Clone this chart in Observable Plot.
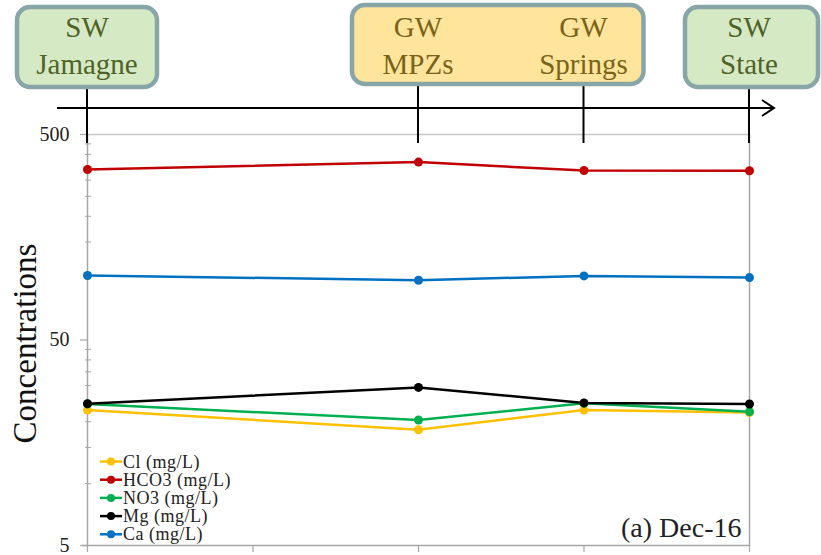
<!DOCTYPE html>
<html>
<head>
<meta charset="utf-8">
<script src="https://cdn.jsdelivr.net/npm/d3@7"></script>
<script src="https://cdn.jsdelivr.net/npm/@observablehq/plot@0.6"></script>
<style>
  html, body { margin: 0; padding: 0; background: #fff; }
  #chart { width: 821px; height: 555px; }
  #chart svg, #chart svg text { font-family: "Liberation Serif", "DejaVu Serif", serif; }
</style>
</head>
<body>
<div id="chart"></div>
<script>
// Sampling sites along the flow path (SW = surface water, GW = groundwater)
const siteNames = ["Jamagne", "MPZs", "Springs", "State"];
const siteTypes = ["SW", "GW", "GW", "SW"];
const sitePositions = [0, 2, 3, 4];
const xTickValues = [0, 1, 2, 3, 4];

// Ion concentrations, December 2016 (mg/L)
const seriesNames = ["Cl (mg/L)", "HCO3 (mg/L)", "NO3 (mg/L)", "Mg (mg/L)", "Ca (mg/L)"];
const seriesColors = ["#ffc000", "#c00000", "#00b050", "#000000", "#0070c0"];
const cl = [22.8, 18.3, 22.8, 22.2];
const hco3 = [338, 367, 334, 333];
const no3 = [24.4, 20.4, 24.6, 22.4];
const mg = [24.5, 29.4, 24.7, 24.4];
const ca = [103, 97.7, 102.5, 100.6];
const seriesValues = [cl, hco3, no3, mg, ca];

// Log axis ticks
const majorTicks = [5, 50, 500];
const minorTicks = [10, 15, 20, 25, 30, 35, 40, 45, 100, 150, 200, 250, 300, 350, 400, 450];

const yLabel = "Concentrations";
const panelLabel = "(a) Dec-16";

const serif = "Liberation Serif, DejaVu Serif, serif";
const grey = "#a6a6a6";

// Long table for the line and dot marks
const rows = seriesNames.flatMap((name, s) =>
  sitePositions.map((pos, i) => ({series: name, pos, value: seriesValues[s][i]}))
);

// Site boxes along the timeline arrow above the plot
const boxes = [
  {sites: [0], fill: "#d6e9c5", text: "#4f6228", padL: 70, padR: 70},
  {sites: [1, 2], fill: "#fee59b", text: "#7a6318", padL: 66, padR: 60},
  {sites: [3], fill: "#d6e9c5", text: "#4f6228", padL: 64, padR: 69}
];

function header(index, {x}) {
  const g = d3.create("svg:g").attr("font-family", serif);
  const arrowY = 108;
  g.append("line")
    .attr("x1", 57).attr("x2", 773).attr("y1", arrowY).attr("y2", arrowY)
    .attr("stroke", "#000").attr("stroke-width", 2);
  g.append("polyline")
    .attr("points", `762,100 774,${arrowY} 762,116`)
    .attr("fill", "none").attr("stroke", "#000").attr("stroke-width", 2);
  for (const p of sitePositions) {
    g.append("line")
      .attr("x1", x(p)).attr("x2", x(p)).attr("y1", 82).attr("y2", 143)
      .attr("stroke", "#000").attr("stroke-width", 2);
  }
  for (const b of boxes) {
    const first = x(sitePositions[b.sites[0]]);
    const last = x(sitePositions[b.sites[b.sites.length - 1]]);
    const top = b.sites.length > 1 ? 5 : 7;
    const bottom = b.sites.length > 1 ? 84 : 87;
    g.append("rect")
      .attr("x", first - b.padL).attr("y", top)
      .attr("width", last - first + b.padL + b.padR).attr("height", bottom - top)
      .attr("rx", 13).attr("fill", b.fill)
      .attr("stroke", "#88a5a7").attr("stroke-width", 4.5);
    for (const s of b.sites) {
      const cx = x(sitePositions[s]);
      const t = g.append("text")
        .attr("text-anchor", "middle").attr("font-size", 29).attr("fill", b.text);
      t.append("tspan").attr("x", cx).attr("y", 37).text(siteTypes[s]);
      t.append("tspan").attr("x", cx).attr("y", 74).text(siteNames[s]);
    }
  }
  return g.node();
}

function legend(index, scales, values, {marginLeft, height, marginBottom}) {
  const g = d3.create("svg:g").attr("font-family", serif);
  const left = marginLeft;
  const bottom = height - marginBottom;
  seriesNames.forEach((name, i) => {
    const cy = bottom - 83.5 + i * 18.2;
    g.append("line")
      .attr("x1", left + 13).attr("x2", left + 35).attr("y1", cy).attr("y2", cy)
      .attr("stroke", seriesColors[i]).attr("stroke-width", 2.5);
    g.append("circle")
      .attr("cx", left + 24).attr("cy", cy).attr("r", 4)
      .attr("fill", seriesColors[i]);
    g.append("text")
      .attr("x", left + 36).attr("y", cy).attr("dy", "0.34em")
      .attr("text-anchor", "start").attr("letter-spacing", 0.5)
      .attr("font-size", 18).attr("fill", "#222").text(name);
  });
  return g.node();
}

const plot = Plot.plot({
  width: 821,
  height: 555,
  marginTop: 134,
  marginBottom: 10,
  marginLeft: 87,
  marginRight: 72,
  style: {background: "#fff", color: "#222"},
  x: {type: "linear", domain: [0, 4], axis: null},
  y: {type: "log", domain: [5, 500], axis: null},
  color: {domain: seriesNames, range: seriesColors},
  marks: [
    // Frame: top gridline, left axis, right border, bottom axis
    Plot.ruleY([500], {stroke: "#c8c8c8", strokeWidth: 1.5}),
    Plot.ruleX([4], {stroke: grey, strokeWidth: 1.5}),
    Plot.ruleX([0], {stroke: grey, strokeWidth: 1.5, y1: 5, y2: 500}),
    Plot.ruleY([5], {stroke: grey, strokeWidth: 1.5, x1: -0.03, x2: 4}),
    Plot.axisX(xTickValues, {anchor: "bottom", tickSize: 7, text: null, label: null, stroke: grey, strokeWidth: 1.2}),
    Plot.axisY(minorTicks, {anchor: "left", tickSize: 6, dx: 4, text: null, label: null, stroke: grey, strokeWidth: 1}),
    Plot.axisY(majorTicks, {
      anchor: "left", tickSize: 7, tickPadding: 11, stroke: grey, strokeWidth: 1.2, label: null,
      fill: "#222", fontSize: 20, tickFormat: d3.format("d")
    }),
    Plot.text([yLabel], {
      frameAnchor: "left", textAnchor: "middle", rotate: -90, dx: -62, dy: 3.5,
      fontSize: 33, fill: "#111"
    }),
    // Concentration series
    Plot.line(rows, {x: "pos", y: "value", z: "series", stroke: "series", strokeWidth: 2.5}),
    Plot.dot(rows, {x: "pos", y: "value", fill: "series", r: 4.5}),
    Plot.text([panelLabel], {
      frameAnchor: "bottom-right", textAnchor: "end", lineAnchor: "bottom",
      dx: -8, dy: -9, fontSize: 28, fill: "#222"
    }),
    header,
    legend
  ]
});

document.getElementById("chart").appendChild(plot);
</script>
</body>
</html>
